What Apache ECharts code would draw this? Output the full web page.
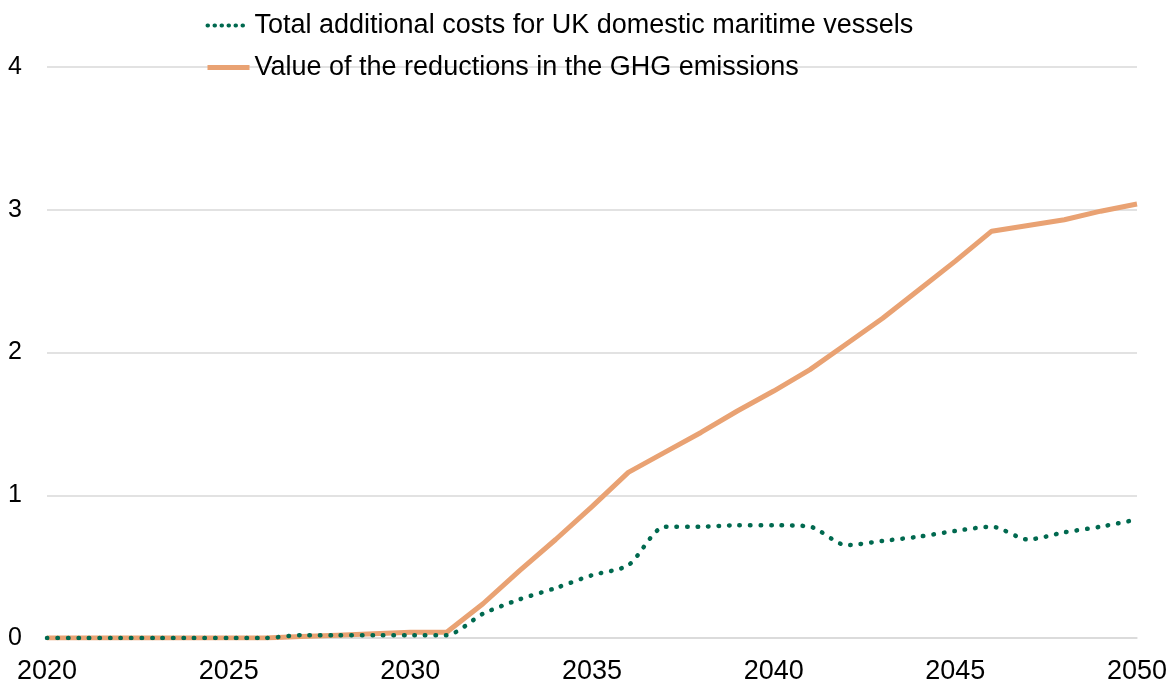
<!DOCTYPE html>
<html>
<head>
<meta charset="utf-8">
<script src="https://cdn.jsdelivr.net/npm/echarts@6/dist/echarts.min.js"></script>
<style>
  html, body { margin: 0; padding: 0; background: #fff; }
  #main { width: 1176px; height: 680px; }
</style>
</head>
<body>
<div id="main"></div>
<script>
const years = []
for (let y = 2020; y <= 2050; y++) years.push(String(y))

// Total additional costs for UK domestic maritime vessels
const costs = [0, 0, 0, 0, 0, 0, 0, 0.02, 0.02, 0.02, 0.02, 0.02,
  0.17, 0.27, 0.35, 0.44, 0.51, 0.78, 0.78, 0.79, 0.79, 0.78,
  0.65, 0.68, 0.71, 0.75, 0.78, 0.69, 0.74, 0.78, 0.83]

// Value of the reductions in the GHG emissions
const ghgValue = [0, 0, 0, 0, 0, 0, 0, 0.01, 0.02, 0.03, 0.04, 0.04,
  0.24, 0.47, 0.69, 0.92, 1.16, 1.30, 1.44, 1.59, 1.73, 1.88,
  2.06, 2.24, 2.44, 2.64, 2.85, 2.89, 2.93, 2.99, 3.04]

const seriesNames = [
  'Total additional costs for UK domestic maritime vessels',
  'Value of the reductions in the GHG emissions'
]

const green = '#00694f'
const orange = '#e9a273'

const chart = echarts.init(document.getElementById('main'))
const fontFamily = 'Liberation Sans, Arial, sans-serif'

chart.setOption({
  animation: false,
  textStyle: { fontFamily: fontFamily },
  legend: {
    orient: 'vertical',
    left: 200,
    top: 7,
    itemWidth: 42,
    itemHeight: 14,
    itemGap: 15,
    itemStyle: { opacity: 0 },
    textStyle: { fontSize: 27, color: '#000', fontFamily: fontFamily },
    data: [
      { name: seriesNames[0], lineStyle: { width: 4, type: [0.5, 6.5], cap: 'round', color: green } },
      { name: seriesNames[1], lineStyle: { width: 5, color: orange } }
    ]
  },
  grid: {
    left: 47,
    right: 39,
    top: 67,
    bottom: 42,
    outerBoundsMode: 'none'
  },
  xAxis: {
    type: 'category',
    data: years,
    boundaryGap: false,
    axisLine: { lineStyle: { color: '#d9d9d9', width: 1.5 } },
    axisTick: { show: false },
    axisLabel: {
      interval: 4,
      color: '#000',
      fontSize: 27,
      margin: 20
    }
  },
  yAxis: {
    type: 'value',
    min: 0,
    max: 4,
    interval: 1,
    axisLine: { show: false },
    axisTick: { show: false },
    splitLine: { lineStyle: { color: '#d9d9d9', width: 1.5 } },
    axisLabel: {
      color: '#000',
      fontSize: 25,
      margin: 25
    }
  },
  series: [
    {
      name: seriesNames[0],
      type: 'line',
      data: costs,
      symbol: 'none',
      smooth: 0.25,
      z: 3,
      lineStyle: {
        color: green,
        width: 4.5,
        type: [0.5, 10],
        cap: 'round'
      },
      itemStyle: { color: green }
    },
    {
      name: seriesNames[1],
      type: 'line',
      data: ghgValue,
      symbol: 'none',
      z: 2,
      lineStyle: {
        color: orange,
        width: 5
      },
      itemStyle: { color: orange }
    }
  ]
})
</script>
</body>
</html>
